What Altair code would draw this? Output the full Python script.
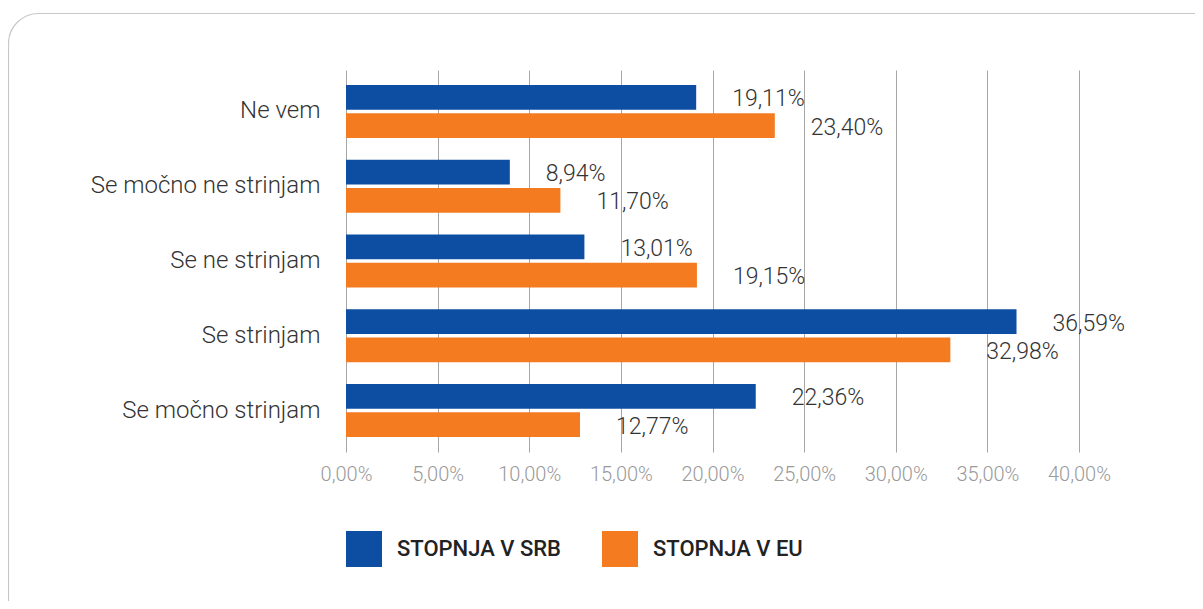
import altair as alt
import pandas as pd

categories = ["Ne vem", "Se močno ne strinjam", "Se ne strinjam", "Se strinjam", "Se močno strinjam"]
series = ["STOPNJA V SRB", "STOPNJA V EU"]
srb_values = [19.11, 8.94, 13.01, 36.59, 22.36]
eu_values = [23.40, 11.70, 19.15, 32.98, 12.77]
colors = ["#0D4EA2", "#F47B20"]

rows = []
for c, s, e in zip(categories, srb_values, eu_values):
    rows.append({"cat": c, "series": series[0], "value": s / 100})
    rows.append({"cat": c, "series": series[1], "value": e / 100})
df = pd.DataFrame(rows)
df["label"] = df["value"].map(lambda v: f"{v*100:.2f}%".replace(".", ","))

FONT = "Roboto"

y_enc = alt.Y("cat:N", sort=categories, title=None,
              scale=alt.Scale(paddingInner=0.29, paddingOuter=0.2),
              axis=alt.Axis(labelFontSize=24, labelFontWeight=300, labelColor="#333333",
                            labelPadding=26, labelLimit=400,
                            ticks=False, domain=False, labelFont=FONT))
yoff = alt.YOffset("series:N", sort=series, scale=alt.Scale(paddingInner=0.12))
x_enc = alt.X("value:Q", title=None,
              scale=alt.Scale(domain=[0, 0.4], nice=False),
              axis=alt.Axis(values=[0, 0.05, 0.1, 0.15, 0.2, 0.25, 0.3, 0.35, 0.4],
                            labelExpr="replace(format(datum.value, '.2%'), '.', ',')",
                            labelOverlap=False, labelFlush=False,
                            grid=True, gridColor="#A6A6A6", gridWidth=1,
                            ticks=False, domain=False, labelFontSize=20,
                            labelFontWeight=300,
                            labelColor="#9A9A9A", labelPadding=12, labelFont=FONT))

color_enc = alt.Color("series:N", sort=series, title=None,
                      scale=alt.Scale(domain=series, range=colors),
                      legend=alt.Legend(orient="none", legendX=0, legendY=461,
                                        direction="horizontal", symbolType="square",
                                        symbolSize=1296, symbolStrokeWidth=0,
                                        labelFontSize=22, labelFontWeight=500,
                                        labelColor="#222222", labelFont=FONT,
                                        labelOffset=15, columnPadding=40,
                                        labelLimit=400))

bars = alt.Chart(df).mark_bar().encode(y=y_enc, yOffset=yoff, x=x_enc, color=color_enc)

labels = alt.Chart(df).mark_text(align="left", baseline="middle", dx=36, dy=2,
                                 fontSize=23, fontWeight=300, color="#333333",
                                 font=FONT).encode(
    y=alt.Y("cat:N", sort=categories), yOffset=yoff, x="value:Q", text="label:N")

border = alt.Chart(pd.DataFrame({"k": [0]})).mark_rect(
    filled=False, stroke="#C8C8C8", strokeWidth=1.2, cornerRadius=30).encode(
    x=alt.value(-337.5), x2=alt.value(880), y=alt.value(-56.5), y2=alt.value(640))

chart = alt.layer(border, bars, labels).properties(
    width=733, height=382,
    autosize=alt.AutoSizeParams(type="none"),
    padding={"left": 338, "top": 62, "right": 116, "bottom": 149},
).configure_view(stroke=None)

chart.save("out.html", embed_options={"renderer": "svg", "actions": False})
